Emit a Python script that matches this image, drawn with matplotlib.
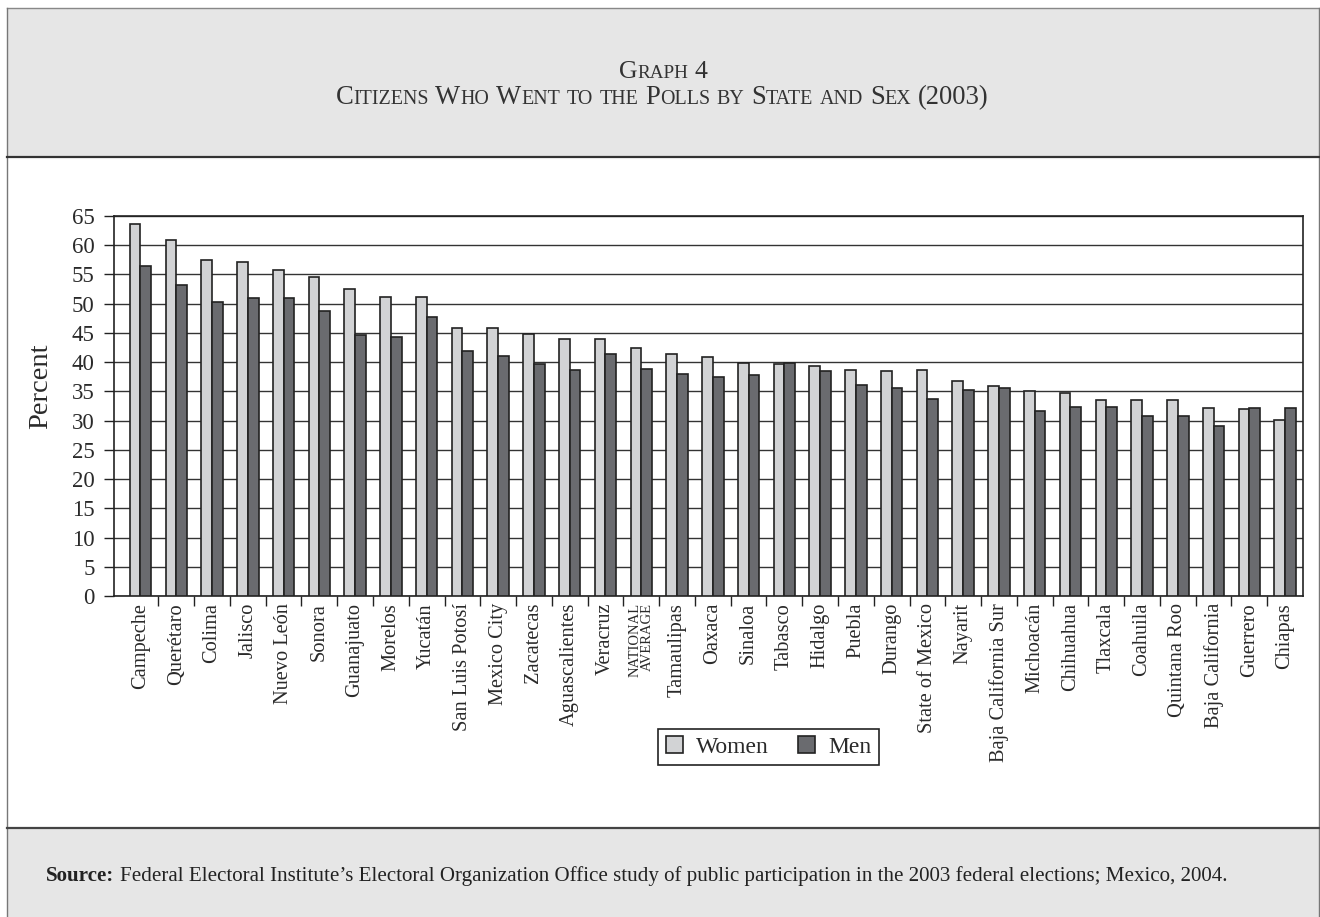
import matplotlib
matplotlib.use('Agg')
import matplotlib.pyplot as plt
from matplotlib.patches import Rectangle
from matplotlib.lines import Line2D
import numpy as np

# ---------------- data ----------------
states = ["Campeche", "Querétaro", "Colima", "Jalisco", "Nuevo León", "Sonora",
          "Guanajuato", "Morelos", "Yucatán", "San Luis Potosí", "Mexico City",
          "Zacatecas", "Aguascalientes", "Veracruz", "NATIONAL\nAVERAGE",
          "Tamaulipas", "Oaxaca", "Sinaloa", "Tabasco", "Hidalgo", "Puebla",
          "Durango", "State of Mexico", "Nayarit", "Baja California Sur",
          "Michoacán", "Chihuahua", "Tlaxcala", "Coahuila", "Quintana Roo",
          "Baja California", "Guerrero", "Chiapas"]
women = [63.6, 60.9, 57.4, 57.2, 55.7, 54.5, 52.5, 51.1, 51.1, 45.9, 45.8,
         44.9, 44.0, 43.9, 42.4, 41.4, 40.9, 39.9, 39.6, 39.3, 38.6, 38.5,
         38.6, 36.7, 36.0, 35.0, 34.7, 33.6, 33.6, 33.5, 32.2, 32.0, 30.1]
men = [56.4, 53.2, 50.3, 50.9, 51.0, 48.8, 44.7, 44.3, 47.7, 41.9, 41.0,
       39.7, 38.7, 41.4, 38.9, 38.0, 37.4, 37.8, 39.9, 38.5, 36.1, 35.6,
       33.7, 35.2, 35.6, 31.6, 32.4, 32.3, 30.8, 30.8, 29.1, 32.2, 32.1]
yticks = list(range(0, 70, 5))
series_names = ["Women", "Men"]

title1 = "Graph 4"
title2 = "Citizens Who Went to the Polls by State and Sex (2003)"
source_bold = "Source:"
source_text = ("Federal Electoral Institute’s Electoral Organization Office study of "
               "public participation in the 2003 federal elections; Mexico, 2004.")

# ---------------- figure ----------------
W, H = 1320, 917
FAM = ['Liberation Serif', 'DejaVu Serif']
plt.rcParams['font.family'] = FAM
fig = plt.figure(figsize=(13.2, 9.17), dpi=100)
fig.patch.set_facecolor('white')


def fx(x):
    return x / W


def fy(y):
    return 1 - y / H


BAND = '#e6e6e6'
fig.add_artist(Rectangle((fx(7), fy(157)), fx(1319) - fx(7), fy(8) - fy(157),
                         transform=fig.transFigure, facecolor=BAND,
                         edgecolor='none', zorder=0))
fig.add_artist(Rectangle((fx(7), 0), fx(1319) - fx(7), fy(828),
                         transform=fig.transFigure, facecolor=BAND,
                         edgecolor='none', zorder=0))
for (x0, y0, x1, y1, c, lw) in [(7, 8, 1319, 8, '#888888', 1.0),
                                (7, 8, 7, 917, '#777777', 1.0),
                                (1319, 8, 1319, 917, '#777777', 1.0),
                                (7, 157, 1319, 157, '#333333', 1.6),
                                (7, 828, 1319, 828, '#444444', 1.6)]:
    fig.add_artist(Line2D([fx(x0), fx(x1)], [fy(y0), fy(y1)],
                          transform=fig.transFigure, color=c, lw=lw, zorder=1))

renderer = fig.canvas.get_renderer()
TCOL = '#2a2a2a'


def text_width(s, size, weight='normal'):
    t = fig.text(0, 0, s, fontsize=size, weight=weight)
    w = t.get_window_extent(renderer).width
    t.remove()
    return w


def small_caps(s, cx, base_y, big, small):
    segs = []
    for ch in s:
        if ch == ' ':
            segs.append((' ', big))
            continue
        size = small if ch.islower() else big
        c = ch.upper()
        if segs and segs[-1][1] == size and segs[-1][0] != ' ':
            segs[-1] = (segs[-1][0] + c, size)
        else:
            segs.append((c, size))
    sp = text_width('x x', big) - text_width('xx', big)
    widths = [sp if t == ' ' else text_width(t, sz) for t, sz in segs]
    total = sum(widths)
    x = cx - total / 2
    for (t, sz), w in zip(segs, widths):
        if t != ' ':
            fig.text(fx(x), fy(base_y), t, fontsize=sz, color='#333333',
                     ha='left', va='baseline')
        x += w


small_caps(title1, 663, 78, 18.5, 13.8)
small_caps(title2, 662, 104, 19.2, 14.4)

# source line
fs_src = 15.1
sp_src = text_width('x x', fs_src) - text_width('xx', fs_src)
fig.text(fx(46), fy(881), source_bold, fontsize=fs_src, weight='bold',
         color='#222222', va='baseline', ha='left')
wb = text_width(source_bold, fs_src, 'bold')
fig.text(fx(46 + wb + sp_src), fy(881), source_text, fontsize=fs_src,
         color='#222222', va='baseline', ha='left')

# ---------------- axes ----------------
ax = fig.add_axes([fx(114), fy(596), fx(1303) - fx(114), fy(216) - fy(596)])
n = len(states)
x = np.arange(n)
bw = 0.30
ax.bar(x - bw / 2, women, bw, color='#d2d3d5', edgecolor='#222222',
       linewidth=1.2, zorder=3, label=series_names[0])
ax.bar(x + bw / 2, men, bw, color='#6a6b6f', edgecolor='#222222',
       linewidth=1.2, zorder=3, label=series_names[1])

ax.set_xlim(-0.74, n - 0.5)
ax.set_ylim(0, 65)
ax.set_yticks(yticks)
ax.set_yticklabels([str(v) for v in yticks], fontsize=16.5, color=TCOL)
ax.yaxis.grid(True, color='#333333', lw=1.0, zorder=0)
ax.set_axisbelow(True)
for s in ax.spines.values():
    s.set_color('#222222')
    s.set_linewidth(1.2)
ax.tick_params(axis='y', length=7, width=1, color='#222222', pad=7)

ax.set_xticks(x)
ax.set_xticklabels(states, rotation=90, fontsize=14.7, color=TCOL)
ax.set_xticks(np.arange(0.5, n - 0.5, 1), minor=True)
ax.tick_params(axis='x', which='major', length=0, pad=5)
ax.tick_params(axis='x', which='minor', length=7, width=1, color='#222222')
for lab in ax.get_xticklabels():
    if lab.get_text().startswith('NATIONAL'):
        lab.set_fontsize(10.5)
        lab.set_multialignment('right')
        lab.set_linespacing(0.9)

fig.text(fx(41), fy(386), 'Percent', rotation=90, fontsize=20.5, color=TCOL,
         ha='center', va='center')

leg = ax.legend(loc='center', bbox_to_anchor=(fx(768.5), fy(747)),
                bbox_transform=fig.transFigure, ncol=2, fontsize=17,
                frameon=True, fancybox=False, edgecolor='#222222',
                framealpha=1, handlelength=0.72, handleheight=0.72,
                handletextpad=0.55, columnspacing=1.25, borderpad=0.32,
                borderaxespad=0)
leg.get_frame().set_linewidth(1.2)
for t in leg.get_texts():
    t.set_color(TCOL)

fig.savefig('out.png', dpi=100)
